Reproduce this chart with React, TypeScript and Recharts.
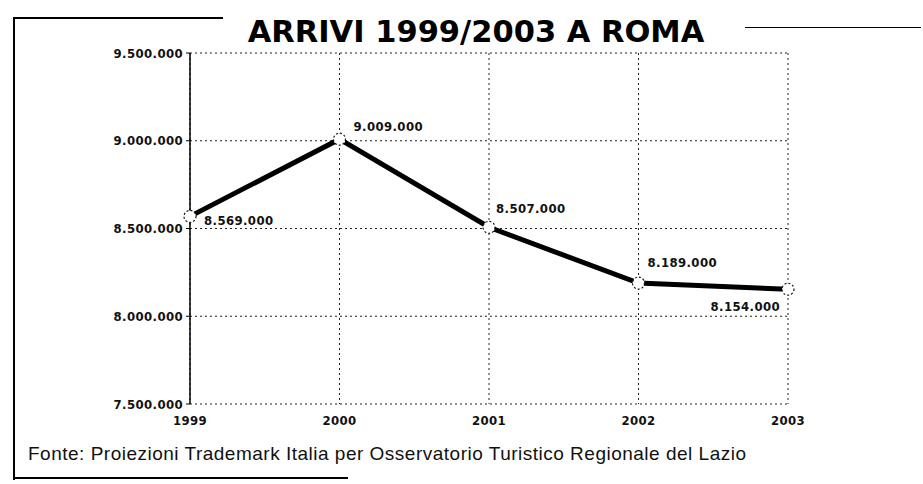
import React from "react";
import {
  CartesianGrid,
  LabelList,
  Line,
  LineChart,
  XAxis,
  YAxis,
} from "recharts";

const years = ["1999", "2000", "2001", "2002", "2003"];
const arrivals = [8569000, 9009000, 8507000, 8189000, 8154000];
const yTicks = [7500000, 8000000, 8500000, 9000000, 9500000];

const chartData = years.map((year, i) => ({ year, arrivals: arrivals[i] }));

// label placement around each point, by index
const labelOffsets = [
  { dx: 14, dy: 5, anchor: "start" },
  { dx: 14, dy: -12, anchor: "start" },
  { dx: 7, dy: -18, anchor: "start" },
  { dx: 9, dy: -20, anchor: "start" },
  { dx: -8, dy: 18, anchor: "end" },
];

const formatIt = (v: number) =>
  String(Math.round(v)).replace(/\B(?=(\d{3})+(?!\d))/g, ".");

const tickFont = "'DejaVu Sans Condensed', 'DejaVu Sans', sans-serif";
const tickStyle = {
  fontFamily: tickFont,
  fontWeight: "bold",
  fontSize: 13,
  letterSpacing: 0.4,
  fill: "#111",
};

const PointLabel = (props: any) => {
  const { x, y, value, index } = props;
  const o = labelOffsets[index] || labelOffsets[0];
  return (
    <text
      x={x + o.dx}
      y={y + o.dy}
      textAnchor={o.anchor}
      dominantBaseline="middle"
      fontFamily={tickFont}
      fontWeight="bold"
      fontSize={13}
      letterSpacing={0.4}
      fill="#111"
    >
      {formatIt(value)}
    </text>
  );
};

const PointDot = (props: any) => {
  const { cx, cy, index } = props;
  return (
    <circle
      key={`dot-${index}`}
      cx={cx}
      cy={cy}
      r={6}
      fill="#fff"
      stroke="#111"
      strokeWidth={1.2}
      strokeDasharray="2 2"
    />
  );
};

const line = (style: React.CSSProperties) => (
  <div style={{ position: "absolute", background: "#000", ...style }} />
);

export default function App() {
  return (
    <div
      style={{
        position: "absolute",
        left: 0,
        top: 0,
        width: 923,
        height: 484,
        background: "#fff",
        overflow: "hidden",
      }}
    >
      {line({ left: 13, top: 17, width: 2, height: 463 })}
      {line({ left: 13, top: 17, width: 210, height: 2 })}
      {line({ left: 745, top: 27, width: 176, height: 1 })}
      {line({ left: 13, top: 477, width: 335, height: 2 })}
      <div
        style={{
          position: "absolute",
          left: 0,
          width: 952,
          top: 15,
          textAlign: "center",
          fontFamily: "'DejaVu Sans', sans-serif",
          fontWeight: "bold",
          fontSize: 30.5,
          lineHeight: "34px",
          color: "#000",
        }}
      >
        ARRIVI 1999/2003 A ROMA
      </div>
      <div style={{ position: "absolute", left: 0, top: 0 }}>
        <LineChart
          width={923}
          height={484}
          data={chartData}
          margin={{ top: 53, right: 135, bottom: 50, left: 0 }}
        >
          <CartesianGrid
            stroke="#222"
            strokeDasharray="2 3"
            strokeWidth={1}
          />
          <XAxis
            dataKey="year"
            padding={{ left: 0, right: 0 }}
            axisLine={false}
            tickLine={false}
            height={30}
            tick={tickStyle}
            tickMargin={6}
          />
          <YAxis
            width={190}
            domain={[7500000, 9500000]}
            ticks={yTicks}
            tickFormatter={formatIt}
            axisLine={{ stroke: "#000", strokeWidth: 1.5 }}
            tickLine={{ stroke: "#000" }}
            tickSize={4}
            tickMargin={3}
            tick={tickStyle}
          />
          <Line
            type="linear"
            dataKey="arrivals"
            stroke="#000"
            strokeWidth={5}
            dot={<PointDot />}
            activeDot={false}
            isAnimationActive={false}
          >
            <LabelList dataKey="arrivals" content={<PointLabel />} />
          </Line>
        </LineChart>
      </div>
      <div
        style={{
          position: "absolute",
          left: 28,
          top: 443,
          fontFamily: "'Liberation Sans', Arial, sans-serif",
          fontSize: 19,
          letterSpacing: 0.5,
          color: "#111",
          whiteSpace: "nowrap",
        }}
      >
        Fonte: Proiezioni Trademark Italia per Osservatorio Turistico Regionale
        del Lazio
      </div>
    </div>
  );
}
